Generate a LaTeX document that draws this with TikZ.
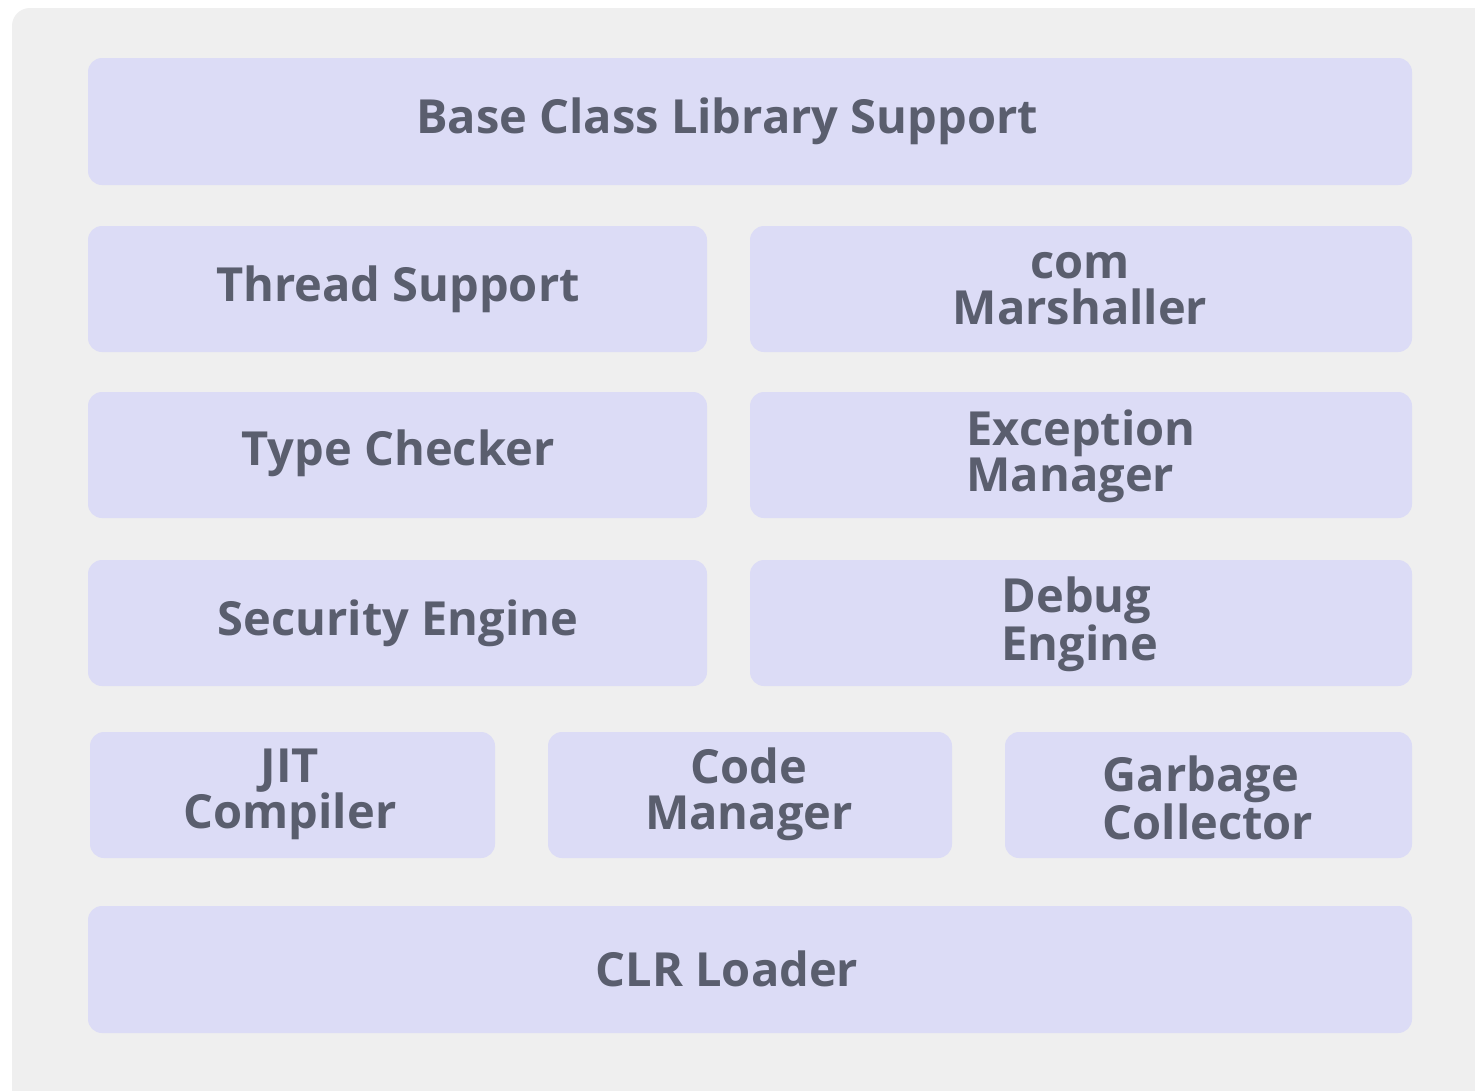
\documentclass[tikz,border=0pt]{standalone}
\usepackage{fontspec}
\setmainfont{Open Sans}
\definecolor{bgray}{HTML}{EFEFEF}
\definecolor{lav}{HTML}{DCDCF6}
\definecolor{txt}{HTML}{5A5E6E}
\begin{document}
\begin{tikzpicture}[x=1pt,y=-1pt,
  blk/.style={fill=lav, rounded corners=14pt, draw=none},
  lbl/.style={text=txt, font=\fontsize{47}{46}\selectfont\bfseries, inner sep=0pt},
  lbll/.style={lbl, align=left},
  lblc/.style={lbl, align=center}]
\useasboundingbox (0,0) rectangle (1475,1090);
\fill[white] (0,0) rectangle (1475,1090);
\fill[bgray, rounded corners=18pt] (12,8) rectangle (1500,1115);
% boxes
\path[blk] (88,58) rectangle (1412,185);
\node[lblc] (bcl) at (727,121) {Base Class Library Support};
\path[blk] (88,226) rectangle (707,352);
\node[lblc] (thr) at (398,289) {Thread Support};
\path[blk] (750,226) rectangle (1412,352);
\node[lblc] (com) at (1080,289) {com\\Marshaller};
\path[blk] (88,392) rectangle (707,518);
\node[lblc] (typ) at (398,453) {Type Checker};
\path[blk] (750,392) rectangle (1412,518);
\node[lbll] (exc) at (1081,456) {Exception\\Manager};
\path[blk] (88,560) rectangle (707,686);
\node[lblc] (sec) at (398,623) {Security Engine};
\path[blk] (750,560) rectangle (1412,686);
\node[lbll] (dbg) at (1080,624) {Debug\\Engine};
\path[blk] (90,732) rectangle (495,858);
\node[lblc] (jit) at (290,794) {JIT\\Compiler};
\path[blk] (548,732) rectangle (952,858);
\node[lblc] (cod) at (749,794) {Code\\Manager};
\path[blk] (1005,732) rectangle (1412,858);
\node[lbll] (gar) at (1208,798) {Garbage\\Collector};
\path[blk] (88,906) rectangle (1412,1033);
\node[lblc] (clr) at (727,969) {CLR Loader};
\end{tikzpicture}
\end{document}
